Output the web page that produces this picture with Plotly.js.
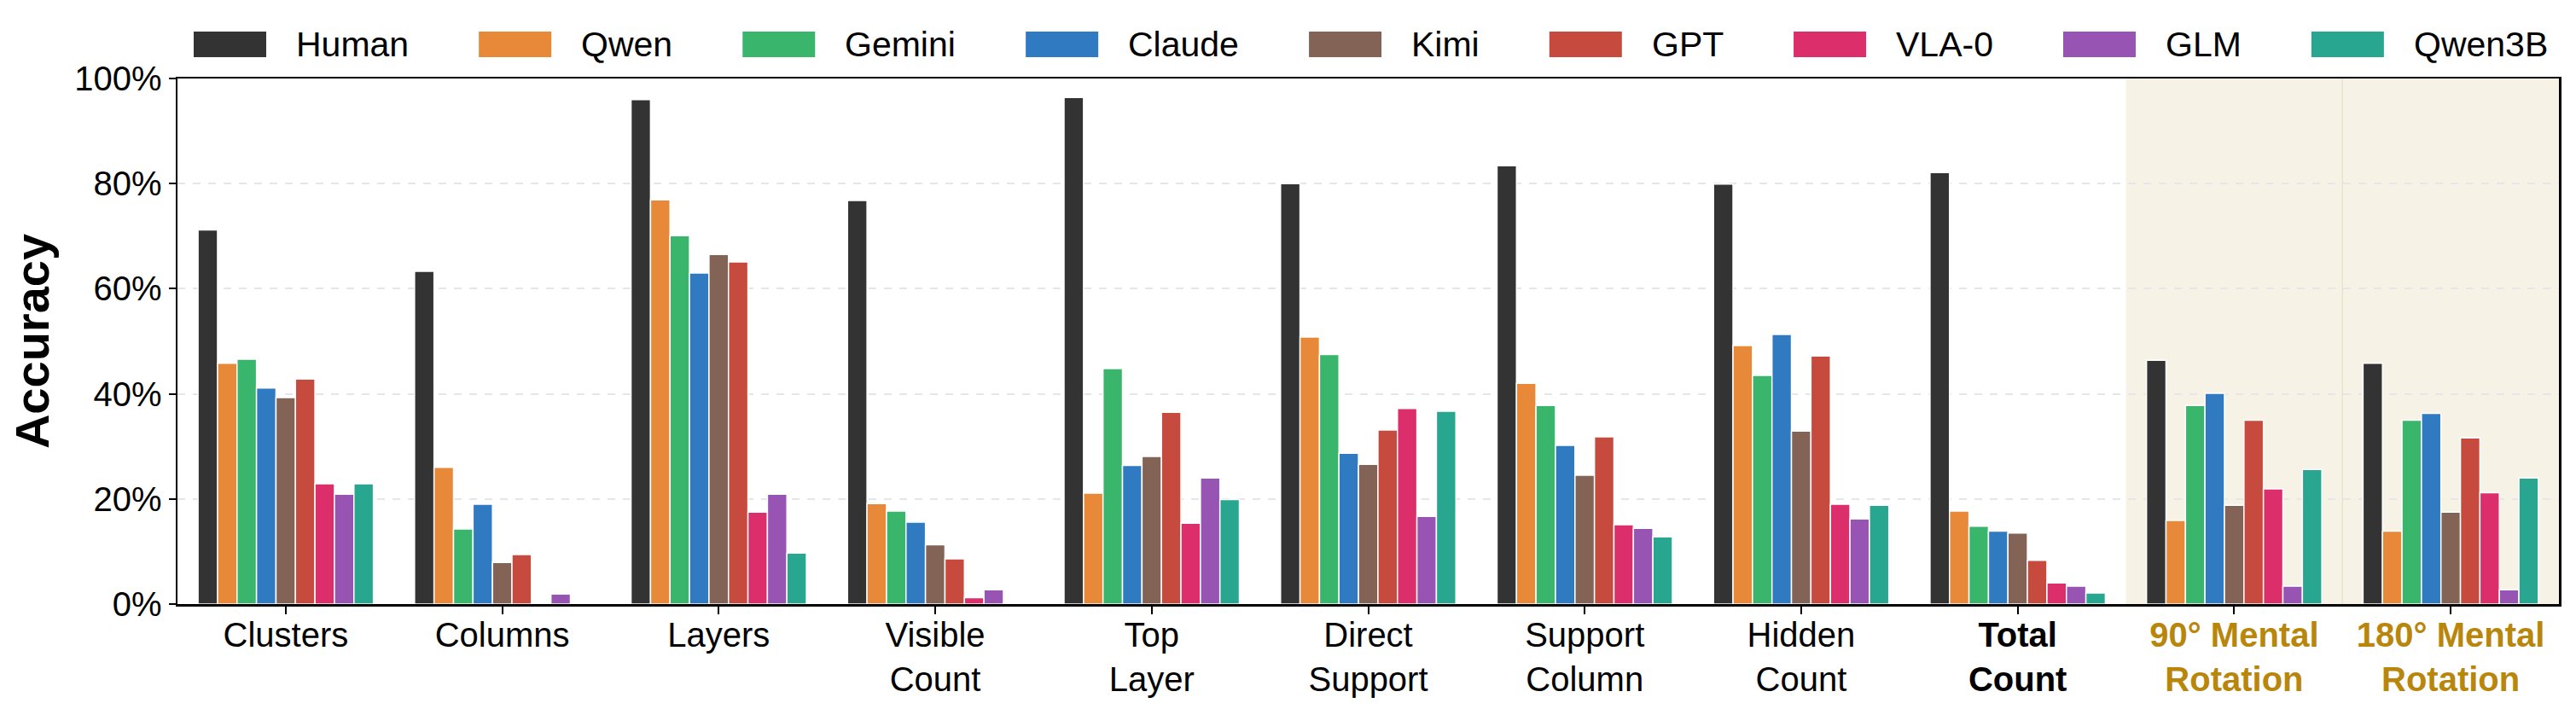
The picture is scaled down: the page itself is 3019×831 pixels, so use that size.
<!DOCTYPE html>
<html>
<head>
<meta charset="utf-8">
<script src="https://cdn.plot.ly/plotly-3.0.1.min.js"></script>
<style>html,body{margin:0;padding:0;background:#fff;}#chart{width:3019px;height:831px;}</style>
</head>
<body>
<div id="chart"></div>
<script>
// ---- data ----
const categories = ['Clusters', 'Columns', 'Layers', 'Visible Count', 'Top Layer', 'Direct Support',
  'Support Column', 'Hidden Count', 'Total Count', '90° Mental Rotation', '180° Mental Rotation'];
const tickLabels = ['Clusters', 'Columns', 'Layers', 'Visible<br>Count', 'Top<br>Layer', 'Direct<br>Support',
  'Support<br>Column', 'Hidden<br>Count', '<b>Total<br>Count</b>',
  '<b><span style="color:#b8860b">90° Mental<br>Rotation</span></b>',
  '<b><span style="color:#b8860b">180° Mental<br>Rotation</span></b>'];
const models = ['Human', 'Qwen', 'Gemini', 'Claude', 'Kimi', 'GPT', 'VLA-0', 'GLM', 'Qwen3B'];
const human  = [71.2, 63.3, 96.0, 76.8, 96.4, 80.0, 83.4, 79.9, 82.1, 46.4, 45.8];
const qwen   = [45.8, 26.0, 76.9, 19.1, 21.1, 50.8, 42.0, 49.2, 17.7, 15.9, 13.9];
const gemini = [46.6, 14.3, 70.1, 17.7, 44.8, 47.5, 37.8, 43.5, 14.8, 37.8, 35.0];
const claude = [41.1, 19.0, 63.0, 15.6, 26.4, 28.7, 30.2, 51.3, 13.9, 40.1, 36.3];
const kimi   = [39.3, 7.9, 66.5, 11.3, 28.1, 26.6, 24.5, 32.9, 13.5, 18.8, 17.5];
const gpt    = [42.8, 9.4, 65.1, 8.6, 36.5, 33.1, 31.8, 47.2, 8.3, 35.0, 31.6];
const vla0   = [22.9, 0.0, 17.5, 1.2, 15.4, 37.2, 15.1, 19.0, 4.0, 21.9, 21.2];
const glm    = [20.9, 1.9, 20.9, 2.7, 24.0, 16.7, 14.4, 16.2, 3.4, 3.4, 2.7];
const qwen3b = [22.9, 0.0, 9.7, 0.2, 19.9, 36.7, 12.8, 18.8, 2.1, 25.6, 24.0];
const yTickVals = [0, 20, 40, 60, 80, 100];
const yTickText = ['0%', '20%', '40%', '60%', '80%', '100%'];

// ---- style ----
const seriesValues = [human, qwen, gemini, claude, kimi, gpt, vla0, glm, qwen3b];
const colors = ['#333333', '#e8893a', '#3ab56c', '#2f7ac1', '#836356', '#c64a3e', '#db2e6b', '#9754b2', '#29a68f'];
const FONT = 'Liberation Sans, Arial, sans-serif';

const W = 3019, H = 831;
const M = {l: 208, r: 20, t: 92, b: 123};
const plotW = W - M.l - M.r, plotH = H - M.t - M.b;

const traces = models.map((name, i) => ({
  type: 'bar', name: name, x: categories, y: seriesValues[i],
  marker: {color: colors[i], line: {color: '#ffffff', width: 1.5}},
  showlegend: false, hoverinfo: 'x+y+name'
}));

// custom legend (large swatches like the reference)
const shapes = [
  {type: 'rect', layer: 'below', xref: 'x', yref: 'paper', x0: 8.5, x1: 10.5, y0: 0, y1: 1,
   fillcolor: '#f6f2e6', line: {width: 0}},
  {type: 'line', layer: 'below', xref: 'x', yref: 'paper', x0: 9.5, x1: 9.5, y0: 0, y1: 1,
   line: {color: '#e8e3cc', width: 1.5}}
];
const annotations = [];
const ctx = document.createElement('canvas').getContext('2d');
const legFont = 41;
ctx.font = legFont + 'px "Liberation Sans"';
let px = 227;
const swW = 85, swTop = 37, swBot = 67, pad = 33, colSp = 84;
const toPX = v => (v - M.l) / plotW;
const toPY = v => (H - M.b - v) / plotH;
models.forEach((name, i) => {
  shapes.push({type: 'rect', xref: 'paper', yref: 'paper', x0: toPX(px), x1: toPX(px + swW),
    y0: toPY(swBot), y1: toPY(swTop), fillcolor: colors[i], line: {width: 0}});
  const tx = px + swW + pad;
  annotations.push({xref: 'paper', yref: 'paper', x: toPX(tx), y: toPY((swTop + swBot) / 2),
    xanchor: 'left', yanchor: 'middle', showarrow: false, text: name,
    font: {family: FONT, size: legFont, color: '#000'}});
  const tw = ctx.measureText(name).width;
  px = tx + tw + colSp;
});

const layout = {
  width: W, height: H,
  margin: M,
  paper_bgcolor: '#ffffff', plot_bgcolor: '#ffffff',
  barmode: 'group', bargap: 0.19, bargroupgap: 0,
  font: {family: FONT, color: '#000'},
  showlegend: false,
  xaxis: {
    type: 'category', range: [-0.5, 10.5],
    tickmode: 'array', tickvals: categories, ticktext: tickLabels,
    ticks: 'outside', ticklen: 9, tickwidth: 2, tickcolor: '#000',
    ticklabelstandoff: -10,
    tickfont: {family: FONT, size: 40, color: '#000'},
    showline: true, linecolor: '#000', linewidth: 2.5, mirror: true,
    showgrid: false, zeroline: false
  },
  yaxis: {
    range: [0, 100], tickmode: 'array', tickvals: yTickVals, ticktext: yTickText,
    ticks: 'outside', ticklen: 8, tickwidth: 2, tickcolor: '#000',
    tickfont: {family: FONT, size: 40, color: '#000'},
    showline: true, linecolor: '#000', linewidth: 2.5, mirror: true,
    showgrid: true, gridcolor: '#e6e6e6', gridwidth: 2, griddash: 'dash',
    zeroline: false,
    title: {text: '<b>Accuracy</b>', font: {family: FONT, size: 56, color: '#000'}, standoff: 12}
  },
  shapes: shapes,
  annotations: annotations
};

Plotly.newPlot('chart', traces, layout, {displayModeBar: false, staticPlot: true});
</script>
</body>
</html>
